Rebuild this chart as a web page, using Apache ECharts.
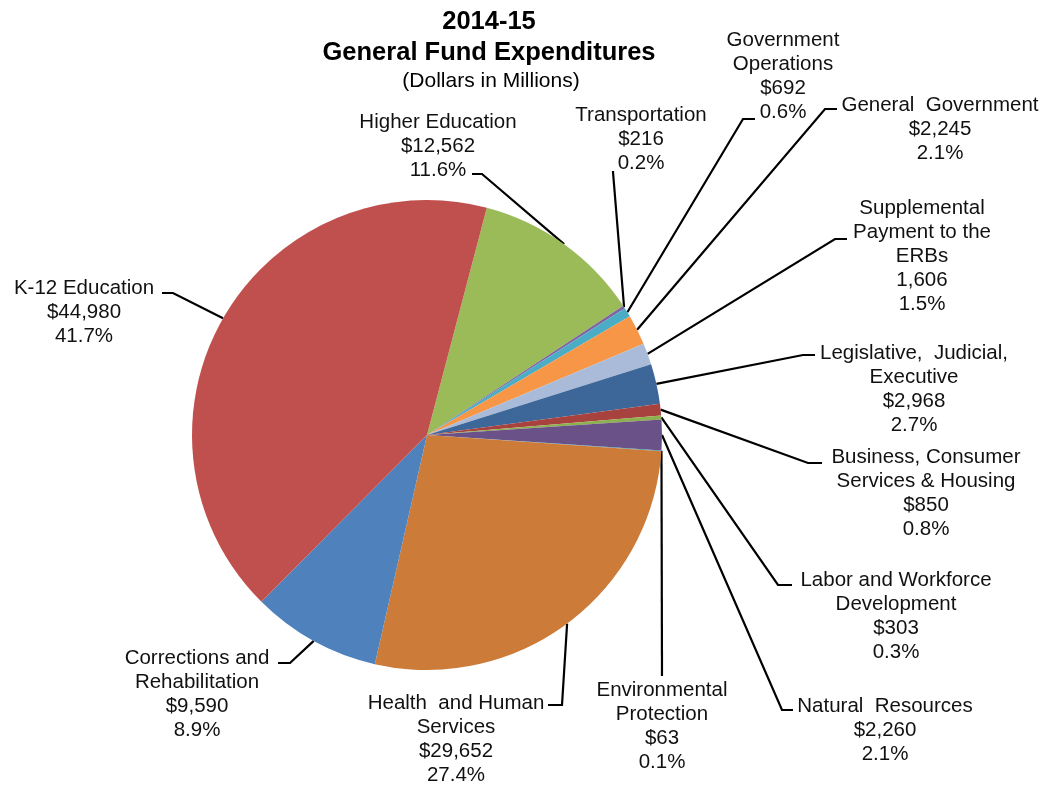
<!DOCTYPE html>
<html>
<head>
<meta charset="utf-8">
<script src="https://cdn.jsdelivr.net/npm/echarts@6/dist/echarts.min.js"></script>
<style>
html,body{margin:0;padding:0;background:#ffffff;}
#chart{width:1047px;height:790px;}
</style>
</head>
<body>
<div id="chart"></div>
<script>
// ---- data (clockwise order as drawn) ----
const categories = [
  'Higher Education',
  'Transportation',
  'Government\nOperations',
  'General  Government',
  'Supplemental\nPayment to the\nERBs',
  'Legislative,  Judicial,\nExecutive',
  'Business, Consumer\nServices & Housing',
  'Labor and Workforce\nDevelopment',
  'Natural  Resources',
  'Environmental\nProtection',
  'Health  and Human\nServices',
  'Corrections and\nRehabilitation',
  'K-12 Education'
];
const values = [12562, 216, 692, 2245, 1606, 2968, 850, 303, 2260, 63, 29652, 9590, 44980];
const percents = ['11.6', '0.2', '0.6', '2.1', '1.5', '2.7', '0.8', '0.3', '2.1', '0.1', '27.4', '8.9', '41.7'];
const valuePrefix = ['$', '$', '$', '$', '', '$', '$', '$', '$', '$', '$', '$', '$'];

// ---- styles / layout (not data) ----
const colors = ['#9BBB59', '#8064A2', '#4BACC6', '#F79646', '#A9BBD9', '#3D6699', '#A8423F',
                '#8EB04F', '#6A5188', '#3E97AF', '#CD7B38', '#4F81BD', '#C0504D'];
const LH = 24;
// label anchor: centre x, first-line centre y, leader bend and end points
const labelAnchors = [
  {cx: 438, y1: 122, bend: [482, 174], end: [472, 174]},
  {cx: 641, y1: 115, bend: [613, 172], end: [613, 171]},
  {cx: 783, y1: 40,  bend: [743, 119], end: [755, 119]},
  {cx: 940, y1: 105, bend: [825, 109], end: [837, 109]},
  {cx: 922, y1: 208, bend: [835, 239], end: [847, 239]},
  {cx: 914, y1: 353, bend: [803, 355], end: [815, 355]},
  {cx: 926, y1: 457, bend: [808, 463], end: [822, 463]},
  {cx: 896, y1: 580, bend: [778, 585], end: [792, 585]},
  {cx: 885, y1: 706, bend: [782, 710], end: [793, 710]},
  {cx: 662, y1: 690, bend: [662, 676], end: [662, 676]},
  {cx: 456, y1: 703, bend: [562, 705], end: [548, 705]},
  {cx: 197, y1: 658, bend: [290, 663], end: [278, 663]},
  {cx: 84,  y1: 288, bend: [173, 293], end: [162, 293]}
];
const CENTER = [427, 435];
const RADIUS = 235;
const START_ANGLE = 75.25;

const FONT = '"Liberation Sans", Arial, Helvetica, sans-serif';

const seriesData = categories.map((name, i) => ({
  name: name,
  value: values[i],
  itemStyle: {color: colors[i]}
}));

const total = values.reduce((a, b) => a + b, 0);

const chart = echarts.init(document.getElementById('chart'), null, {renderer: 'canvas'});
chart.setOption({
  animation: false,
  backgroundColor: '#ffffff',
  title: [
    {text: '2014-15', left: 484, top: 4, textAlign: 'center',
     textStyle: {fontFamily: FONT, fontSize: 25.5, fontWeight: 'bold', color: '#000'}},
    {text: 'General Fund Expenditures', left: 484, top: 35, textAlign: 'center',
     textStyle: {fontFamily: FONT, fontSize: 25.5, fontWeight: 'bold', color: '#000'}},
    {text: '(Dollars in Millions)', left: 486, top: 66, textAlign: 'center',
     textStyle: {fontFamily: FONT, fontSize: 21, fontWeight: 'normal', color: '#000'}}
  ],
  series: [{
    type: 'pie',
    center: CENTER,
    radius: RADIUS,
    startAngle: START_ANGLE,
    clockwise: true,
    avoidLabelOverlap: false,
    silent: true,
    data: seriesData,
    itemStyle: {borderWidth: 0},
    label: {
      show: true,
      position: 'outside',
      fontFamily: FONT,
      fontSize: 20.5,
      lineHeight: LH,
      color: '#111',
      align: 'center',
      formatter: function (p) {
        const i = p.dataIndex;
        return categories[i] + '\n' + valuePrefix[i] + values[i].toLocaleString('en-US') + '\n' + percents[i] + '%';
      }
    },
    labelLine: {
      show: true,
      length: 10,
      length2: 10,
      lineStyle: {color: '#000', width: 2.2}
    },
    labelLayout: function (params) {
      const i = params.dataIndex;
      const a = labelAnchors[i];
      let start;
      if (params.labelLinePoints && params.labelLinePoints.length) {
        start = params.labelLinePoints[0];
      } else {
        let before = 0;
        for (let k = 0; k < i; k++) before += values[k];
        const mid = (before + values[i] / 2) / total * 2 * Math.PI + (90 - START_ANGLE) * Math.PI / 180;
        start = [CENTER[0] + RADIUS * Math.sin(mid), CENTER[1] - RADIUS * Math.cos(mid)];
      }
      return {
        x: a.cx,
        y: a.y1 - LH / 2,
        align: 'center',
        verticalAlign: 'top',
        labelLinePoints: [start, a.bend, a.end]
      };
    }
  }]
});
</script>
</body>
</html>
